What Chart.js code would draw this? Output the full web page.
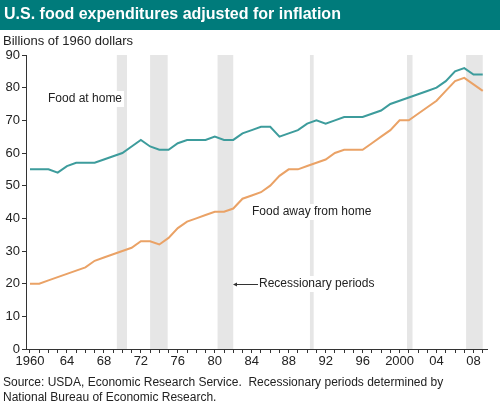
<!DOCTYPE html>
<html>
<head>
<script src="https://cdn.jsdelivr.net/npm/chart.js@4"></script>
<style>
  body { margin: 0; background: #fff; }
  #wrap { width: 500px; height: 405px; position: relative; }
</style>
</head>
<body>
<div id="wrap"><canvas id="chart" width="500" height="405"></canvas></div>
<script>
const years = [];
for (let y = 1960; y <= 2009; y++) years.push(y);

const foodAtHome = [55,55,55,54,56,57,57,57,58,59,60,62,64,62,61,61,63,64,64,64,
  65,64,64,66,67,68,68,65,66,67,69,70,69,70,71,71,71,72,73,75,
  76,77,78,79,80,82,85,86,84,84];
const foodAway = [20,20,21,22,23,24,25,27,28,29,30,31,33,33,32,34,37,39,40,41,
  42,42,43,46,47,48,50,53,55,55,56,57,58,60,61,61,61,63,65,67,
  70,70,72,74,76,79,82,83,81,79];
// recession periods [start, end] in fractional years, as shaded in the chart
const recessions = [[1969.4, 1970.5], [1973.0, 1974.9], [1980.3, 1982.0],
  [1990.3, 1990.7], [2000.8, 2001.4], [2007.2, 2009.0]];
const yTicks = [0,10,20,30,40,50,60,70,80,90];

const font = "'Liberation Sans', Arial, sans-serif";

const decor = {
  id: 'decor',
  beforeDatasetsDraw(chart) {
    const ctx = chart.ctx, x = chart.scales.x, a = chart.chartArea;
    ctx.save();
    ctx.fillStyle = '#e6e6e6';
    recessions.forEach(r => {
      const x0 = x.getPixelForValue(r[0]);
      const x1 = x.getPixelForValue(r[1]);
      ctx.fillRect(x0, a.top, x1 - x0, a.bottom - a.top);
    });
    ctx.restore();
  },
  afterDatasetsDraw(chart) {
    const ctx = chart.ctx;
    ctx.save();
    ctx.font = '12px ' + font;
    ctx.textBaseline = 'middle';
    function label(t, x, y) {
      const w = ctx.measureText(t).width;
      ctx.fillStyle = '#fff';
      ctx.fillRect(x - 2, y - 8, w + 4, 16);
      ctx.fillStyle = '#222';
      ctx.fillText(t, x, y);
    }
    label('Food at home', 48, 99);
    label('Food away from home', 252, 212);
    label('Recessionary periods', 259, 284);
    ctx.strokeStyle = '#333';
    ctx.lineWidth = 1;
    ctx.beginPath(); ctx.moveTo(258, 284.5); ctx.lineTo(235, 284.5); ctx.stroke();
    ctx.fillStyle = '#333';
    ctx.beginPath(); ctx.moveTo(233, 284.5); ctx.lineTo(237, 282.5); ctx.lineTo(237, 286.5); ctx.fill();

    // title bar
    ctx.fillStyle = '#007b7b';
    ctx.fillRect(0, 0, 500, 30);
    ctx.fillStyle = '#fff';
    ctx.font = 'bold 16px ' + font;
    ctx.fillText('U.S. food expenditures adjusted for inflation', 4, 15);
    ctx.fillStyle = '#222';
    ctx.font = '13px ' + font;
    ctx.fillText('Billions of 1960 dollars', 3, 41);
    ctx.font = '12px ' + font;
    ctx.fillText('Source: USDA, Economic Research Service.  Recessionary periods determined by', 3, 383);
    ctx.fillText('National Bureau of Economic Research.', 3, 398);
    ctx.restore();
  }
};

new Chart(document.getElementById('chart'), {
  type: 'line',
  data: {
    datasets: [{
      label: 'Food at home',
      data: years.map((y, i) => ({ x: y, y: foodAtHome[i] })),
      borderColor: '#3d9c9c',
      borderWidth: 2,
      pointRadius: 0,
      tension: 0
    }, {
      label: 'Food away from home',
      data: years.map((y, i) => ({ x: y, y: foodAway[i] })),
      borderColor: '#eaa266',
      borderWidth: 2,
      pointRadius: 0,
      tension: 0
    }]
  },
  options: {
    responsive: false,
    animation: false,
    layout: { padding: { left: 0, top: 55, right: 13, bottom: 0 } },
    plugins: { legend: { display: false }, tooltip: { enabled: false } },
    scales: {
      x: {
        type: 'linear',
        min: 1959.57,
        max: 2009.46,
        afterBuildTicks: s => { s.ticks = years.map(v => ({ value: v })); },
        afterFit: s => { s.height = 56; },
        grid: { drawOnChartArea: false, tickLength: 4, color: '#333' },
        border: { color: '#333' },
        ticks: {
          autoSkip: false,
          maxRotation: 0,
          padding: 1,
          color: '#222',
          font: { family: font, size: 13 },
          callback: v => (v - 1960) % 4 ? '' : (v === 1960 || v === 2000 ? String(v) : String(v).slice(2))
        }
      },
      y: {
        min: 0,
        max: 90,
        afterBuildTicks: s => { s.ticks = yTicks.map(v => ({ value: v })); },
        afterFit: s => { s.width = 26; },
        grid: { drawOnChartArea: false, tickLength: 4, color: '#333' },
        border: { color: '#333' },
        ticks: { padding: 2, color: '#222', font: { family: font, size: 13 } }
      }
    }
  },
  plugins: [decor]
});
</script>
</body>
</html>
